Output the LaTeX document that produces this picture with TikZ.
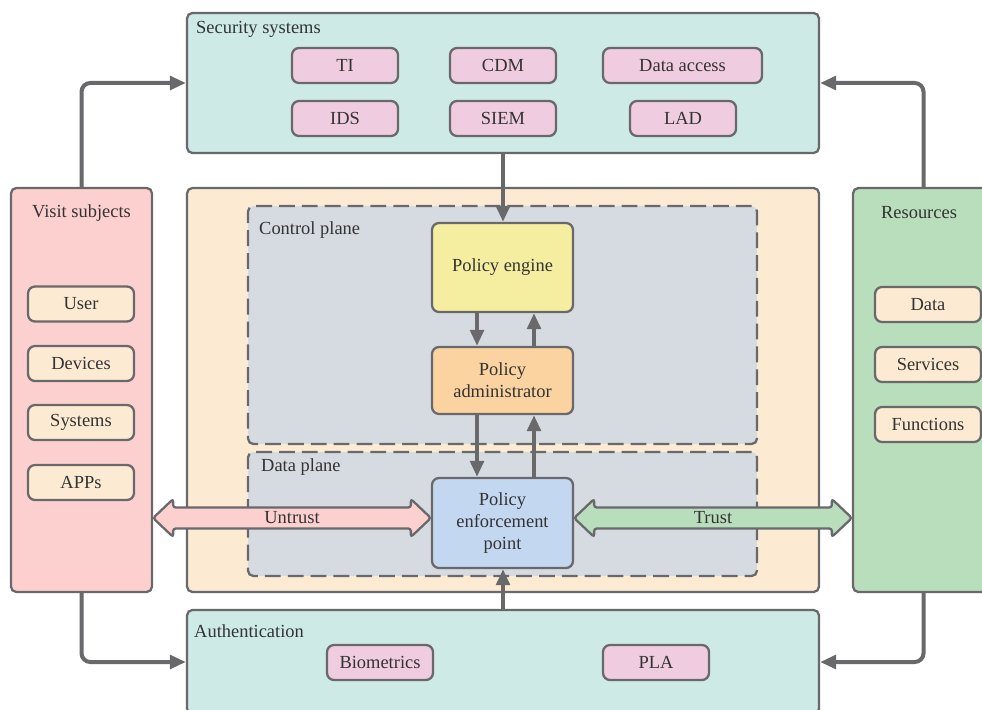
\documentclass[tikz,border=0pt]{standalone}
\usepackage{fontspec}
\setmainfont{Liberation Serif}
\usepackage{xcolor}
\usetikzlibrary{arrows.meta, positioning, calc}
\definecolor{edge}{HTML}{69696B}
\definecolor{ink}{HTML}{333333}
\definecolor{secfill}{HTML}{CDEAE7}
\definecolor{itemfill}{HTML}{F0CCE0}
\definecolor{visitfill}{HTML}{FDD0D0}
\definecolor{corefill}{HTML}{FCEBD2}
\definecolor{planefill}{HTML}{D6DAE1}
\definecolor{enginefill}{HTML}{F5EEA0}
\definecolor{adminfill}{HTML}{FAD3A0}
\definecolor{pepfill}{HTML}{C3D8F0}
\definecolor{resfill}{HTML}{B8DEBC}

\begin{document}
\begin{tikzpicture}[
    x=0.02cm, y=-0.02cm,
    font=\fontsize{10.5}{12.5}\selectfont\color{ink},
    conn/.style={draw=edge, line width=0.08cm, rounded corners=5pt, -{Triangle[length=0.32cm, width=0.27cm]}},
    group/.style={draw=edge, line width=1.3pt, rounded corners=3pt, fill=#1},
    plane/.style={draw=edge, line width=1.3pt, rounded corners=3pt, fill=planefill, dash pattern=on 9pt off 4pt},
    item/.style={draw=edge, line width=1.3pt, rounded corners=4pt, fill=#1, minimum width=2.12cm, minimum height=0.7cm, inner sep=1pt},
    core/.style={draw=edge, line width=1.3pt, rounded corners=4pt, fill=#1, align=center, minimum width=2.82cm},
    dbl/.style={draw=edge, line width=1.3pt, rounded corners=1.5pt, fill=#1},
]
    \clip (0,0) rectangle (982,709);

    % Security systems
    \node[group=secfill, minimum width=12.64cm, minimum height=2.8cm] (sec) at (503,83) {};
    \node[anchor=west] (seclbl) at (190,29) {Security systems};
    \node[item=itemfill] (ti) at (345,65.5) {TI};
    \node[item=itemfill] (cdm) at (503,65.5) {CDM};
    \node[item=itemfill, minimum width=3.18cm] (dacc) at (682.5,65.5) {Data access};
    \node[item=itemfill] (ids) at (345,118.5) {IDS};
    \node[item=itemfill] (siem) at (503,118.5) {SIEM};
    \node[item=itemfill] (lad) at (683,118.5) {LAD};

    % Visit subjects
    \node[group=visitfill, minimum width=2.82cm, minimum height=8.08cm] (visit) at (81.5,390) {};
    \node (visitlbl) at (81.5,213) {Visit subjects};
    \node[item=corefill] (user) at (81,304) {User};
    \node[item=corefill] (dev) at (81,363.5) {Devices};
    \node[item=corefill] (sys) at (81,422.5) {Systems};
    \node[item=corefill] (apps) at (81,482.5) {APPs};

    % Resources
    \node[group=resfill, minimum width=2.82cm, minimum height=8.08cm] (res) at (923.5,390) {};
    \node (reslbl) at (919,213) {Resources};
    \node[item=corefill] (data) at (928,304.5) {Data};
    \node[item=corefill] (serv) at (928,364.5) {Services};
    \node[item=corefill] (func) at (928,424.5) {Functions};

    % Trust core with control and data plane
    \node[group=corefill, minimum width=12.64cm, minimum height=8.08cm] (zt) at (503,390) {};
    \node[plane, minimum width=10.18cm, minimum height=4.76cm] (ctrl) at (502.5,325) {};
    \node[anchor=west] (ctrllbl) at (253,230) {Control plane};
    \node[plane, minimum width=10.18cm, minimum height=2.48cm] (dplane) at (502.5,514) {};
    \node[anchor=west] (dplanelbl) at (255,467) {Data plane};
    \node[core=enginefill, minimum height=1.78cm] (pe) at (502.5,267.5) {Policy engine};
    \node[core=adminfill, minimum height=1.34cm] (pa) at (502.5,380.5) {Policy\\administrator};
    \node[core=pepfill, minimum height=1.8cm] (pep) at (502.5,523) {Policy\\enforcement\\point};

    % Authentication
    \node[group=secfill, minimum width=12.64cm, minimum height=2.08cm] (auth) at (503,662) {};
    \node[anchor=west] (authlbl) at (188,631) {Authentication};
    \node[item=itemfill] (bio) at (380,662.5) {Biometrics};
    \node[item=itemfill] (pla) at (656,662.5) {PLA};

    % Untrust / Trust channels
    \coordinate (ut1) at (visit.east |- 0,518);
    \coordinate (ut2) at (pep.west |- 0,518);
    \draw[dbl=visitfill] (ut1) -- ++(20,-19) -- ++(0,8.5) -- ($(ut2)+(-20,-10.5)$) -- ++(0,-8.5) -- (ut2)
        -- ++(-20,19) -- ++(0,-8.5) -- ($(ut1)+(20,10.5)$) -- ++(0,8.5) -- cycle;
    \node (untrust) at ($(ut1)!0.5!(ut2)$) {Untrust};
    \coordinate (tr1) at (pep.east |- 0,518);
    \coordinate (tr2) at (res.west |- 0,518);
    \draw[dbl=resfill] (tr1) -- ++(20,-19) -- ++(0,8.5) -- ($(tr2)+(-20,-10.5)$) -- ++(0,-8.5) -- (tr2)
        -- ++(-20,19) -- ++(0,-8.5) -- ($(tr1)+(20,10.5)$) -- ++(0,8.5) -- cycle;
    \node (trust) at ($(tr1)!0.5!(tr2)$) {Trust};

    % Flows
    \draw[conn] (visit.north) |- (sec.west);
    \draw[conn] (res.north) |- (sec.east);
    \draw[conn] (visit.south) |- (auth.west);
    \draw[conn] (res.south) |- (auth.east);
    \draw[conn] (sec.south) -- (pe.north -| sec.south);
    \draw[conn] ([xshift=-0.51cm]pe.south) -- ([xshift=-0.51cm]pa.north);
    \draw[conn] ([xshift=0.63cm]pa.north) -- ([xshift=0.63cm]pe.south);
    \draw[conn] ([xshift=-0.51cm]pa.south) -- ([xshift=-0.51cm]pep.north);
    \draw[conn] ([xshift=0.63cm]pep.north) -- ([xshift=0.63cm]pa.south);
    \draw[conn] (auth.north) -- (pep.south -| auth.north);
\end{tikzpicture}
\end{document}
